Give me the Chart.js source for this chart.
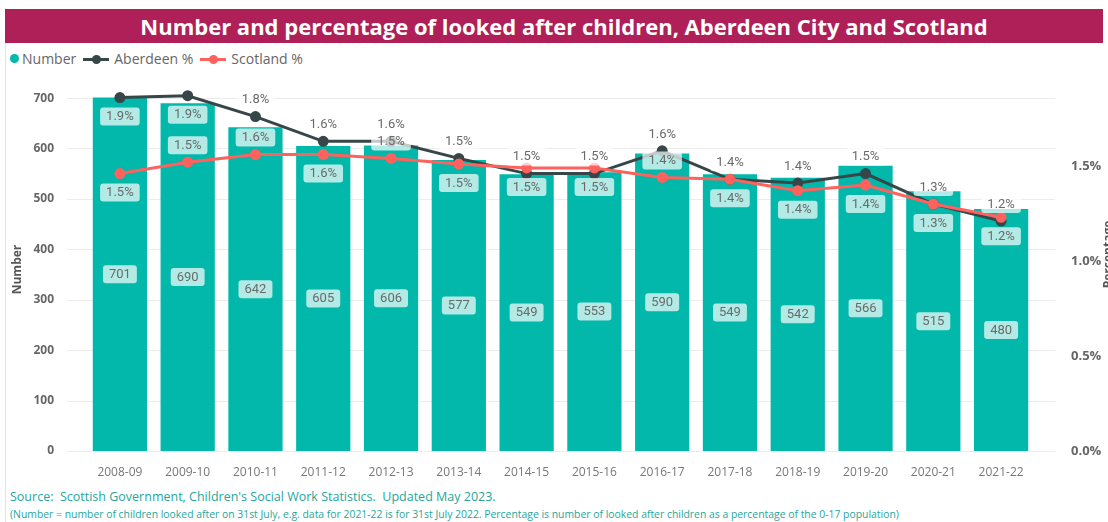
<!DOCTYPE html>
<html>
<head>
<meta charset="utf-8">
<script src="https://cdn.jsdelivr.net/npm/chart.js@4/dist/chart.umd.min.js"></script>
<style>
  html, body { margin: 0; padding: 0; background: #fff; overflow: hidden; }
  body { width: 1108px; height: 522px; position: relative; font-family: 'Open Sans', sans-serif; }
  .frame { position: absolute; left: 5px; top: 8px; width: 1px; height: 514px; background: #e4e4e4; }
  .title {
    position: absolute; left: 5px; top: 9px; width: 1078px; height: 34px; padding-left: 20px;
    background: #af1f58; color: #fff; font-weight: bold; font-size: 22px;
    line-height: 34px; text-align: center;
  }
  .legend { position: absolute; left: 10px; top: 49px; display: flex; align-items: center; font-size: 14px; color: #666; }
  .legend .item { display: flex; align-items: center; margin-right: 7px; }
  .legend .dot { width: 9px; height: 9px; border-radius: 50%; margin-right: 3px; }
  .legend .mark { position: relative; width: 26px; height: 10px; margin-right: 5px; }
  .legend .mark .ln { position: absolute; left: 0; top: 4px; width: 26px; height: 3px; }
  .legend .mark .pt { position: absolute; left: 9px; top: 1px; width: 9px; height: 9px; border-radius: 50%; }
  canvas { position: absolute; left: 0; top: 72px; }
  .src { position: absolute; left: 10px; top: 488px; font-size: 12.5px; color: #26a69a; white-space: pre; }
  .note { position: absolute; left: 10px; top: 507px; font-size: 10.4px; color: #26a69a; white-space: pre; }
</style>
</head>
<body>
<div class="frame"></div>
<div class="title">Number and percentage of looked after children, Aberdeen City and Scotland</div>
<div class="legend">
  <div class="item"><span class="dot" style="background:#01b8aa"></span>Number</div>
  <div class="item"><span class="mark"><span class="ln" style="background:#374649"></span><span class="pt" style="background:#374649"></span></span>Aberdeen %</div>
  <div class="item"><span class="mark"><span class="ln" style="background:#fd625e"></span><span class="pt" style="background:#fd625e"></span></span>Scotland %</div>
</div>
<canvas id="myChart" width="1115" height="404"></canvas>
<div class="src">Source:  Scottish Government, Children's Social Work Statistics.  Updated May 2023.</div>
<div class="note">(Number = number of children looked after on 31st July, e.g. data for 2021-22 is for 31st July 2022. Percentage is number of looked after children as a percentage of the 0-17 population)</div>

<script>
const years = ['2008-09', '2009-10', '2010-11', '2011-12', '2012-13', '2013-14', '2014-15',
    '2015-16', '2016-17', '2017-18', '2018-19', '2019-20', '2020-21', '2021-22'];

const numbers = [701, 690, 642, 605, 606, 577, 549, 553, 590, 549, 542, 566, 515, 480];
const aberdeenPct = [1.86, 1.87, 1.76, 1.63, 1.63, 1.54, 1.46, 1.46, 1.58, 1.43, 1.41, 1.46, 1.30, 1.21];
const scotlandPct = [1.46, 1.52, 1.56, 1.56, 1.54, 1.51, 1.49, 1.49, 1.44, 1.43, 1.37, 1.40, 1.30, 1.23];

const numberTicks = [0, 100, 200, 300, 400, 500, 600, 700];

Chart.defaults.font.family = "'Open Sans', sans-serif";

// light horizontal grid, a bit wider than the plot area like the original
const gridPlugin = {
    id: 'wideGrid',
    beforeDatasetsDraw(chart) {
        const ctx = chart.ctx;
        const y = chart.scales.y;
        const a = chart.chartArea;
        ctx.save();
        ctx.strokeStyle = '#ececec';
        ctx.lineWidth = 1;
        numberTicks.forEach(v => {
            const py = Math.round(y.getPixelForValue(v)) + 0.5;
            ctx.beginPath();
            ctx.moveTo(a.left - 19, py);
            ctx.lineTo(a.right + 20, py);
            ctx.stroke();
        });
        ctx.restore();
    },
    afterDraw(chart) {
        // right axis title reads bottom to top and is cut by the page edge
        const ctx = chart.ctx;
        const a = chart.chartArea;
        ctx.save();
        ctx.translate(1109, (a.top + a.bottom) / 2 - 15);
        ctx.rotate(-Math.PI / 2);
        ctx.font = "bold 12px 'Open Sans'";
        ctx.fillStyle = '#555';
        ctx.textAlign = 'center';
        ctx.textBaseline = 'middle';
        ctx.fillText('Percentage', 0, 0);
        ctx.restore();
    }
};

function roundRect(ctx, x, y, w, h, r) {
    ctx.beginPath();
    ctx.moveTo(x + r, y);
    ctx.arcTo(x + w, y, x + w, y + h, r);
    ctx.arcTo(x + w, y + h, x, y + h, r);
    ctx.arcTo(x, y + h, x, y, r);
    ctx.arcTo(x, y, x + w, y, r);
    ctx.closePath();
}

// data labels in semi transparent boxes
const labelPlugin = {
    id: 'valueLabels',
    afterDatasetsDraw(chart, args, opts) {
        const ctx = chart.ctx;
        ctx.save();
        ctx.font = '13px Roboto';
        ctx.textAlign = 'center';
        ctx.textBaseline = 'middle';
        chart.data.datasets.forEach((ds, i) => {
            const meta = chart.getDatasetMeta(i);
            meta.data.forEach((el, j) => {
                let text, y;
                if (ds.type === 'bar') {
                    text = String(ds.data[j]);
                    y = (el.y + el.base) / 2;
                } else {
                    text = ds.data[j].toFixed(1) + '%';
                    const up = opts.above[i].includes(j);
                    y = up ? el.y - 17 : el.y + 19;
                }
                const w = ctx.measureText(text).width + 12;
                const h = 18;
                ctx.fillStyle = 'rgba(255,255,255,0.7)';
                roundRect(ctx, el.x - w / 2, y - h / 2, w, h, 3);
                ctx.fill();
                ctx.fillStyle = '#6a6a6a';
                ctx.fillText(text, el.x, y + 0.5);
            });
        });
        ctx.restore();
    }
};

function noVerticalPadding(scale) {
    scale.paddingTop = 0;
    scale.paddingBottom = 0;
}

const data = {
    labels: years,
    datasets: [{
        type: 'bar',
        label: 'Number',
        data: numbers,
        backgroundColor: '#01b8aa',
        categoryPercentage: 1,
        barPercentage: 0.8,
        yAxisID: 'y',
        order: 3
    }, {
        type: 'line',
        label: 'Aberdeen %',
        data: aberdeenPct,
        borderColor: '#374649',
        backgroundColor: '#374649',
        borderWidth: 3,
        pointRadius: 4,
        pointHoverRadius: 4,
        tension: 0,
        yAxisID: 'y1',
        order: 2
    }, {
        type: 'line',
        label: 'Scotland %',
        data: scotlandPct,
        borderColor: '#fd625e',
        backgroundColor: '#fd625e',
        borderWidth: 3,
        pointRadius: 4,
        pointHoverRadius: 4,
        tension: 0,
        yAxisID: 'y1',
        order: 1
    }]
};

const config = {
    data: data,
    options: {
        responsive: false,
        animation: false,
        layout: { padding: { top: 16, left: 0, right: 0, bottom: 0 } },
        scales: {
            x: {
                grid: { display: false },
                border: { display: false },
                ticks: { color: '#777', font: { size: 12 }, padding: 6, maxRotation: 0 },
                afterFit(scale) { scale.height = 25; }
            },
            y: {
                position: 'left',
                min: 0,
                max: 720,
                grid: { display: false },
                border: { display: false },
                ticks: {
                    stepSize: 100,
                    includeBounds: false,
                    color: '#666',
                    padding: 24,
                    font: { size: 12, weight: 'bold' }
                },
                title: {
                    display: true,
                    text: 'Number',
                    color: '#555',
                    font: { size: 12, weight: 'bold' },
                    padding: { top: 10, bottom: 0 }
                },
                afterFit(scale) { scale.width = 86; noVerticalPadding(scale); }
            },
            y1: {
                position: 'right',
                min: 0,
                max: 1.9105,
                grid: { display: false },
                border: { display: false },
                ticks: {
                    stepSize: 0.5,
                    includeBounds: false,
                    color: '#666',
                    padding: 28,
                    font: { size: 13, weight: 'bold' },
                    callback: v => v.toFixed(1) + '%'
                },
                afterFit(scale) { scale.width = 80; noVerticalPadding(scale); }
            }
        },
        plugins: {
            legend: { display: false },
            tooltip: { enabled: false },
            valueLabels: {
                above: { 1: [2, 3, 4, 5, 6, 7, 8, 9, 10, 11, 12, 13], 2: [1, 2, 4, 8] }
            }
        }
    },
    plugins: [gridPlugin, labelPlugin]
};

const myChart = new Chart(
    document.getElementById('myChart'),
    config
);
</script>
</body>
</html>
